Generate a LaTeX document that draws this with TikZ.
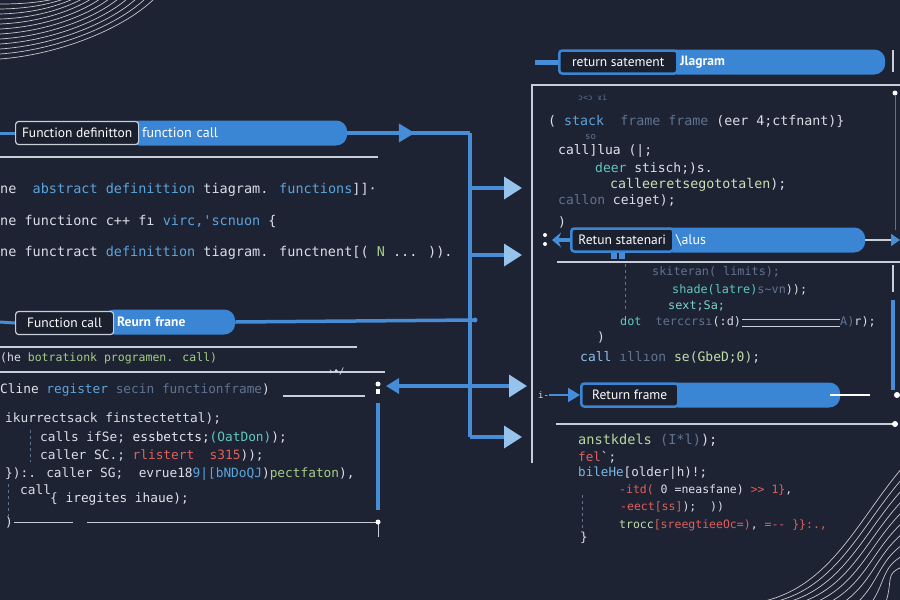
\documentclass[tikz,border=0pt]{standalone}
\usepackage{fontspec}
\setmainfont{PT Sans}
\newfontfamily\codefont{DejaVu Sans Mono}
\usetikzlibrary{positioning,arrows.meta,decorations.markings}

\definecolor{bgnavy}{RGB}{30,35,51}
\definecolor{linkblue}{RGB}{70,140,215}
\definecolor{pillblue}{RGB}{58,133,212}
\definecolor{headblue}{RGB}{150,195,235}
\definecolor{boxdark}{RGB}{27,32,47}
\definecolor{rulegray}{RGB}{200,206,215}
\definecolor{txtwhite}{RGB}{218,222,230}
\definecolor{txtblue}{RGB}{90,165,220}
\definecolor{txtteal}{RGB}{95,200,190}
\definecolor{txtgreen}{RGB}{165,205,135}
\definecolor{txtred}{RGB}{225,95,90}
\definecolor{txtdim}{RGB}{95,115,145}

\begin{document}
\begin{tikzpicture}
[x=1pt, y=-1pt,
    codeline/.style={font=\codefont\fontsize{#1}{#1}\selectfont,
        text=txtwhite, anchor=west, inner sep=0pt},
    codeline/.default=13.3,
    pill/.style={fill=pillblue, rounded corners=11pt, minimum height=25pt,
        inner xsep=14pt, inner ysep=0pt, text width=#1, align=left,
        anchor=west, text=white, font=\fontsize{14}{16}\selectfont},
    labelbox/.style={fill=boxdark, draw=rulegray, line width=1.2pt,
        rounded corners=3pt, minimum height=23pt, inner xsep=6pt,
        inner ysep=0pt, anchor=west, text=white,
        font=\fontsize{13.5}{15}\selectfont},
    link/.style={draw=linkblue, line width=3.5pt},
    bighead/.style={-{Triangle[length=18pt,width=22pt,color=headblue]}},
    midhead/.style={postaction={decorate},
        decoration={markings, mark=at position 0.55 with
            {\arrow{Triangle[length=16pt,width=18pt,color=linkblue]}}}},
    frameline/.style={draw=rulegray, line width=1.3pt},
    dimline/.style={draw=txtdim, line width=1pt, dashed},
    wave/.style={draw=white!75!bgnavy, line width=0.7pt},
    ]

    % background and page size
    \fill[bgnavy] (0,0) rectangle (900,600);
    \useasboundingbox (0,0) rectangle (900,600);

    % the waves in the corners
    \foreach \i in {0,...,11}
        \draw[wave] (0,4+5*\i) .. controls (25+3*\i,4+4.6*\i) and (40+7.5*\i,2+2.5*\i) .. (55+9*\i,-1);
    \foreach \i in {0,...,9}
        \draw[wave] (760+14*\i,602) .. controls (830+7*\i,588-1*\i) and (858+3*\i,520+6*\i) .. (902,468+11*\i);

    % left: definition and call
    \coordinate (ltop) at (0,133);
    \node[pill=191pt] (fcall) at (128,133) {function call};
    \node[labelbox, minimum width=123] (fdef) at (15,133) {Function definitton};
    \draw[link, line width=3pt] (ltop) -- (fdef.west);
    \draw[frameline] (0,157) -- (378,157);

    \node[codeline=13.5] (tl1) at (0,190) {ne~~\textcolor{txtblue}{abstract definittion} tiagram. \textcolor{txtblue}{functions}]]·};
    \node[codeline=13.5] (tl2) at (0,221) {ne functionc c++ fı \textcolor{txtblue}{virc,'scnuon} \{};
    \node[codeline=13.5] (tl3) at (0,253) {ne functract \textcolor{txtblue}{definittion} tiagram. functnent[( \textcolor{txtgreen}{N} ... )).};

    % left: call and return frame
    \coordinate (lbot) at (0,322);
    \node[pill=104pt, font=\bfseries\fontsize{13.5}{16}\selectfont] (rframe) at (103,322) {Reurn frane};
    \node[labelbox, minimum width=98] (fcall2) at (15,323) {Function call};
    \draw[link, line width=3pt] (lbot) -- (fcall2.west);
    \draw[frameline] (0,347) -- (357,347);
    \node[codeline=11.5, text=txtgreen] (bl0) at (0,358) {\textcolor{txtwhite}{(he} botrationk programen. call)};
    \draw[frameline] (0,372) -- (385,372);
    \node[codeline=9] (mark1) at (328,372) {›•/};
    \node[codeline=12.8] (bl1) at (0,390) {\textcolor{txtwhite!80}{Cline} \textcolor{txtblue}{register} \textcolor{txtdim}{secin functionframe})};
    \draw[frameline] (283,396) -- (365,396);
    \node[codeline=12.8] (bl2) at (5,418) {ikurrectsack finstectettal);};
    \node[codeline=12.8] (bl3) at (40,437) {calls ifSe; \textcolor{txtwhite!70}{essbetcts;}\textcolor{txtteal}{(OatDon)});};
    \node[codeline=12.8] (bl4) at (40,455) {caller SC.; \textcolor{txtred}{rlistert}~~\textcolor{txtred}{s315}));};
    \node[codeline=12.8] (bl5) at (5,474) {\}):. caller SG;~~evrue18\textcolor{txtblue}{9|[bNDoQJ})\textcolor{txtgreen}{pectfaton}),};
    \node[codeline=12.8] (bl6) at (20,490) {call};
    \node[codeline=12.8] (bl7) at (50,499) {\{ \textcolor{txtwhite!85}{iregites ihaue);}};
    \node[codeline=12.8] (bl8) at (5,522) {)};
    \draw[dimline] (30,430) -- (30,462);
    \draw[dimline] (8,484) -- (8,516);
    \draw[frameline, line width=1pt] (14,522) -- (73,522);
    \draw[frameline, line width=1pt] (87,522) -- (378,522) -- (378,537);
    \fill[white] (378,522) circle (2.5);
    \fill[white] (378,384) circle (2.5);
    \fill[white] (376,389) rectangle (380,394);
    \draw[link] (378,403) -- (378,510);

    % the junction in the middle
    \coordinate (jtop) at (470,133);
    \coordinate (jbot) at (470,437);
    \coordinate (ja) at (470,188);
    \coordinate (jb) at (470,255);
    \coordinate (jc) at (470,386);
    \coordinate (jmid) at (475,320);
    \coordinate (ta) at (522,188);
    \coordinate (tb) at (522,255);
    \coordinate (tc) at (527,386);
    \coordinate (td) at (522,437);
    \coordinate (tl) at (386,386);

    \draw[link, midhead] (fcall.east) -- (jtop);
    \draw[link] (jtop) -- (jbot);
    \foreach \s/\t in {ja/ta, jb/tb, jc/tc, jbot/td}
        \draw[link, bighead] (\s) -- (\t);
    \draw[link, -{Triangle[length=13pt,width=15pt]}] (jc) -- (tl);
    \draw[link] (rframe.east) -- (jmid);
    \fill[linkblue] (jmid) circle (2.5);

    % right: return statement
    \coordinate (rtin) at (535,62);
    \node[pill=191pt, font=\bfseries\fontsize{13.5}{16}\selectfont] (rdiag) at (666,62) {Jlagram};
    \node[labelbox, draw=pillblue, line width=2.5pt, minimum width=118] (rstate) at (558,62) {return satement};
    \draw[link, line width=5pt] (rtin) -- (rstate.west);
    \draw[frameline, line width=2pt] (893,50) -- (893,72);

    % the frame on the right
    \draw[frameline] (532,463) -- (532,85) -- (900,85);
    \fill[white] (895,93) circle (2.5);
    \draw[draw=txtdim, line width=1pt] (895,96) -- (895,230);
    \draw[frameline] (557,262) -- (900,262);
    \draw[frameline, line width=2pt] (893,265) -- (893,292);
    \draw[link] (893,300) -- (893,390);
    \fill[white] (897,395) circle (3);
    \draw[frameline] (556,424) -- (895,424);
    \fill[white] (895,424) circle (3);

    \node[codeline=8, text=txtdim] (rt0) at (578,98) {ɔ<ɔ ɤi};
    \node[codeline=13.3] (rt1) at (548,122) {( \textcolor{txtblue}{stack}~~\textcolor{txtdim}{frame frame} (eer 4;ctfnant)\}};
    \node[codeline=9, text=txtdim] (rt2) at (585,137) {so};
    \node[codeline=13] (rt3) at (558,151) {\textcolor{txtwhite!75}{call]lua} (|;};
    \node[codeline=13] (rt4) at (595,168) {\textcolor{txtteal}{deer} stisch;)s.};
    \node[codeline=13.3] (rt5) at (610,185) {\textcolor{txtgreen!60!white}{calleeretsegototalen});};
    \node[codeline=13] (rt6) at (558,201) {\textcolor{txtdim}{callon} ceiget);};
    \node[codeline=13] (rt7) at (558,222) {)};

    % right: return statement values
    \fill[white] (545,235) circle (2);
    \fill[white] (545,244) circle (2);
    \coordinate (vtip) at (552,240);
    \coordinate (vend) at (900,240);
    \node[pill=175pt] (valpill) at (662,240) {\textbackslash alus};
    \node[labelbox, draw=pillblue, line width=2.5pt, minimum width=102] (rstat) at (570,240) {Retun statenari};
    \draw[link, -{Stealth[length=9pt,width=15pt]}] (rstat.west) -- (vtip);
    \draw[frameline, line width=2pt, -{Triangle[length=9pt,width=12pt,color=linkblue]}] (valpill.east) -- (vend);
    \fill[linkblue] (611,253) rectangle (617,259);
    \fill[linkblue] (619,253) rectangle (625,259);

    \draw[dimline] (625,264) -- (625,310);
    \node[codeline=11.8, text=txtdim] (rt8) at (652,272) {skiteran( limits);};
    \node[codeline=11.8] (rt9) at (672,290) {\textcolor{txtteal}{shade(latre)}\textcolor{txtdim}{s\textasciitilde vn}));};
    \node[codeline=11.8, text=txtteal!80!white] (rt10) at (668,306) {sext;Sa;};
    \node[codeline=11.8] (rt11) at (620,322) {\textcolor{txtteal}{dot}~~\textcolor{txtdim}{terccrsı}(:d)};
    \draw[frameline, line width=1pt] (742,319) -- (840,319);
    \draw[frameline, line width=1pt] (742,326) -- (840,326);
    \node[codeline=11.8] (rt12) at (840,322) {\textcolor{txtdim}{A)}r);};
    \node[codeline=13] (rt13) at (597,337) {)};
    \node[codeline=13] (rt14) at (580,357) {\textcolor{txtblue!70}{call} \textcolor{txtdim}{ıllıon} \textcolor{txtgreen!70!white}{se(GbeD;0)};};

    % right: return frame
    \node[codeline=9] (ifrag) at (538,395) {i-};
    \node[pill=145pt] (rfpill) at (667,395) {};
    \node[labelbox, draw=pillblue, line width=2.5pt, minimum width=97] (rfbox) at (580,395) {Return frame};
    \draw[link, line width=2pt, -{Triangle[length=12pt,width=14pt]}] (ifrag.east) -- (rfbox.west);
    \draw[draw=white, line width=2.5pt] (830,395) -- (870,395);

    \node[codeline=13.6] (rb1) at (578,440) {\textcolor{txtgreen!80!white}{anstkdels} \textcolor{txtdim}{(I*l)});};
    \node[codeline=12.6] (rb2) at (578,457) {\textcolor{txtred}{fel}\textasciigrave;};
    \node[codeline=12.6] (rb3) at (578,473) {\textcolor{txtblue!80!white}{bileHe}[older|h)!;};
    \node[codeline=11.5] (rb4) at (619,490) {\textcolor{txtred}{-itd(} 0 \textcolor{txtwhite!85}{=neasfane)} \textcolor{txtred}{>{}> 1\}},};
    \node[codeline=11.5] (rb5) at (620,507) {\textcolor{txtred}{-eect[ss]});~~))};
    \node[codeline=11.5] (rb6) at (619,525) {\textcolor{txtgreen!70!white}{trocc}\textcolor{txtred}{[sreegtieeOc=)}, \textcolor{txtred}{=-{}- \}\}:.,}};
    \node[codeline=12.6] (rb7) at (580,538) {\}};
    \draw[dimline] (582,495) -- (582,530);

\end{tikzpicture}
\end{document}
